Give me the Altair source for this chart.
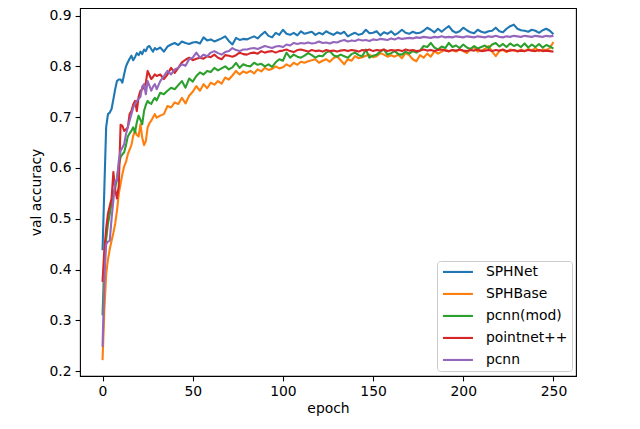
import altair as alt
import pandas as pd

names = ["SPHNet", "SPHBase", "pcnn(mod)", "pointnet++", "pcnn"]
colors = ["#1f77b4", "#ff7f0e", "#2ca02c", "#d62728", "#9467bd"]

epochs_early = list(range(0, 31))
epochs_late = list(range(32, 251, 2))

sphnet_early = [0.438, 0.560, 0.680, 0.706, 0.709, 0.716, 0.735, 0.755, 0.771, 0.774,
                0.774, 0.768, 0.785, 0.800, 0.808, 0.815, 0.821, 0.812, 0.818, 0.826,
                0.822, 0.829, 0.824, 0.833, 0.830, 0.838, 0.840, 0.834, 0.829, 0.836,
                0.833]
sphnet_late = [0.837, 0.829, 0.839, 0.843, 0.846, 0.842, 0.849, 0.846, 0.844, 0.847,
               0.848, 0.845, 0.857, 0.851, 0.853, 0.849, 0.852, 0.855, 0.859, 0.850,
               0.843, 0.856, 0.852, 0.854, 0.853, 0.856, 0.859, 0.855, 0.862, 0.868,
               0.860, 0.857, 0.866, 0.862, 0.872, 0.864, 0.862, 0.866, 0.861, 0.869,
               0.864, 0.866, 0.868, 0.862, 0.866, 0.863, 0.869, 0.865, 0.862, 0.867,
               0.864, 0.868, 0.859, 0.863, 0.866, 0.862, 0.864, 0.872, 0.865, 0.866,
               0.869, 0.861, 0.867, 0.864, 0.869, 0.862, 0.866, 0.872, 0.866, 0.864,
               0.868, 0.865, 0.866, 0.870, 0.876, 0.872, 0.867, 0.874, 0.868, 0.874,
               0.879, 0.870, 0.866, 0.869, 0.876, 0.871, 0.867, 0.865, 0.872, 0.868,
               0.866, 0.869, 0.870, 0.876, 0.869, 0.867, 0.874, 0.879, 0.882, 0.874,
               0.871, 0.870, 0.868, 0.872, 0.870, 0.866, 0.871, 0.874, 0.870, 0.863]

sphbase_early = [0.222, 0.320, 0.390, 0.420, 0.440, 0.457, 0.472, 0.490, 0.516, 0.549,
                 0.569, 0.588, 0.603, 0.612, 0.627, 0.636, 0.645, 0.663, 0.673, 0.665,
                 0.662, 0.686, 0.660, 0.645, 0.653, 0.680, 0.688, 0.693, 0.700, 0.706,
                 0.699]
sphbase_late = [0.703, 0.706, 0.722, 0.719, 0.729, 0.726, 0.738, 0.727, 0.742, 0.750,
                0.761, 0.752, 0.765, 0.757, 0.768, 0.764, 0.771, 0.766, 0.778, 0.774,
                0.782, 0.791, 0.784, 0.790, 0.787, 0.791, 0.786, 0.794, 0.790, 0.797,
                0.793, 0.795, 0.800, 0.796, 0.798, 0.804, 0.800, 0.807, 0.803, 0.809,
                0.807, 0.810, 0.812, 0.814, 0.807, 0.811, 0.814, 0.809, 0.816, 0.820,
                0.812, 0.804, 0.814, 0.811, 0.820, 0.816, 0.818, 0.821, 0.823, 0.818,
                0.820, 0.826, 0.823, 0.819, 0.822, 0.819, 0.823, 0.816, 0.826, 0.822,
                0.814, 0.810, 0.822, 0.817, 0.825, 0.819, 0.830, 0.825, 0.829, 0.833,
                0.829, 0.832, 0.829, 0.833, 0.830, 0.826, 0.834, 0.838, 0.829, 0.831,
                0.834, 0.840, 0.829, 0.820, 0.830, 0.832, 0.828, 0.833, 0.831, 0.829,
                0.833, 0.830, 0.834, 0.831, 0.836, 0.830, 0.833, 0.832, 0.836, 0.848]

pcnnmod_early = [0.310, 0.420, 0.460, 0.490, 0.510, 0.530, 0.550, 0.560, 0.580, 0.605,
                 0.621, 0.627, 0.631, 0.645, 0.662, 0.668, 0.673, 0.680, 0.670, 0.690,
                 0.703, 0.695, 0.686, 0.712, 0.724, 0.732, 0.728, 0.726, 0.733, 0.738,
                 0.733]
pcnnmod_late = [0.748, 0.745, 0.752, 0.758, 0.755, 0.763, 0.771, 0.758, 0.776, 0.770,
                0.781, 0.788, 0.784, 0.791, 0.789, 0.797, 0.792, 0.796, 0.800, 0.794,
                0.798, 0.807, 0.797, 0.804, 0.801, 0.800, 0.807, 0.803, 0.805, 0.800,
                0.804, 0.799, 0.808, 0.814, 0.811, 0.827, 0.817, 0.823, 0.819, 0.817,
                0.821, 0.826, 0.822, 0.817, 0.821, 0.820, 0.827, 0.830, 0.822, 0.819,
                0.823, 0.820, 0.817, 0.824, 0.827, 0.822, 0.820, 0.833, 0.817, 0.821,
                0.823, 0.829, 0.833, 0.823, 0.826, 0.830, 0.824, 0.823, 0.829, 0.825,
                0.830, 0.827, 0.831, 0.840, 0.838, 0.846, 0.837, 0.833, 0.839, 0.836,
                0.846, 0.838, 0.841, 0.836, 0.843, 0.837, 0.834, 0.840, 0.835, 0.838,
                0.841, 0.836, 0.843, 0.846, 0.839, 0.844, 0.838, 0.845, 0.840, 0.843,
                0.838, 0.845, 0.837, 0.843, 0.838, 0.844, 0.837, 0.842, 0.839, 0.835]

pointnet_early = [0.376, 0.440, 0.480, 0.510, 0.525, 0.540, 0.592, 0.558, 0.540, 0.565,
                  0.685, 0.683, 0.673, 0.676, 0.680, 0.706, 0.712, 0.725, 0.732, 0.712,
                  0.740, 0.752, 0.755, 0.758, 0.768, 0.791, 0.783, 0.775, 0.779, 0.784,
                  0.781]
pointnet_late = [0.784, 0.775, 0.784, 0.797, 0.787, 0.797, 0.808, 0.813, 0.817, 0.812,
                 0.815, 0.817, 0.815, 0.820, 0.818, 0.823, 0.817, 0.814, 0.822, 0.821,
                 0.819, 0.822, 0.827, 0.824, 0.823, 0.826, 0.827, 0.825, 0.830, 0.827,
                 0.829, 0.830, 0.827, 0.830, 0.831, 0.833, 0.830, 0.828, 0.832, 0.833,
                 0.831, 0.829, 0.832, 0.830, 0.831, 0.829, 0.832, 0.830, 0.831, 0.829,
                 0.831, 0.832, 0.830, 0.832, 0.831, 0.829, 0.832, 0.831, 0.833, 0.830,
                 0.832, 0.831, 0.833, 0.830, 0.832, 0.831, 0.832, 0.830, 0.833, 0.831,
                 0.832, 0.830, 0.831, 0.833, 0.831, 0.832, 0.830, 0.832, 0.833, 0.831,
                 0.830, 0.832, 0.831, 0.833, 0.831, 0.830, 0.832, 0.831, 0.833, 0.830,
                 0.831, 0.832, 0.830, 0.832, 0.831, 0.833, 0.830, 0.831, 0.832, 0.830,
                 0.831, 0.830, 0.832, 0.831, 0.830, 0.832, 0.830, 0.831, 0.830, 0.829]

pcnn_early = [0.248, 0.380, 0.450, 0.455, 0.457, 0.500, 0.536, 0.575, 0.575, 0.614,
              0.634, 0.640, 0.647, 0.667, 0.680, 0.693, 0.706, 0.719, 0.726, 0.732,
              0.736, 0.740, 0.760, 0.765, 0.745, 0.771, 0.762, 0.752, 0.760, 0.765,
              0.755]
pcnn_late = [0.771, 0.781, 0.791, 0.784, 0.794, 0.797, 0.804, 0.801, 0.814, 0.817,
             0.827, 0.817, 0.823, 0.820, 0.827, 0.830, 0.826, 0.823, 0.828, 0.830,
             0.836, 0.832, 0.830, 0.833, 0.833, 0.835, 0.836, 0.834, 0.837, 0.840,
             0.838, 0.836, 0.839, 0.840, 0.838, 0.843, 0.841, 0.846, 0.844, 0.846,
             0.845, 0.847, 0.845, 0.846, 0.849, 0.846, 0.847, 0.845, 0.848, 0.847,
             0.850, 0.852, 0.849, 0.851, 0.850, 0.853, 0.851, 0.852, 0.850, 0.853,
             0.852, 0.854, 0.853, 0.852, 0.855, 0.853, 0.856, 0.854, 0.855, 0.856,
             0.855, 0.857, 0.856, 0.858, 0.857, 0.856, 0.858, 0.857, 0.859, 0.857,
             0.858, 0.857, 0.859, 0.858, 0.857, 0.859, 0.858, 0.857, 0.859, 0.858,
             0.857, 0.859, 0.858, 0.860, 0.858, 0.857, 0.859, 0.858, 0.860, 0.859,
             0.858, 0.860, 0.859, 0.858, 0.860, 0.859, 0.858, 0.860, 0.859, 0.860]

x_ticks = [0, 50, 100, 150, 200, 250]
y_ticks = [0.2, 0.3, 0.4, 0.5, 0.6, 0.7, 0.8, 0.9]

series = [
    sphnet_early + sphnet_late,
    sphbase_early + sphbase_late,
    pcnnmod_early + pcnnmod_late,
    pointnet_early + pointnet_late,
    pcnn_early + pcnn_late,
]
epochs = epochs_early + epochs_late

rows = []
for k, (name, vals) in enumerate(zip(names, series)):
    for e, v in zip(epochs, vals):
        rows.append({"epoch": e, "acc": v, "series": name, "k": k})
df = pd.DataFrame(rows)

FONT = "DejaVu Sans"

chart = alt.Chart(df).mark_line(strokeWidth=2.1, strokeJoin="round").encode(
    x=alt.X("epoch:Q",
            scale=alt.Scale(domain=[-12.5, 262.5], nice=False, zero=False),
            axis=alt.Axis(values=x_ticks, title="epoch", format="d", titlePadding=3)),
    y=alt.Y("acc:Q",
            scale=alt.Scale(domain=[0.1907, 0.9148], nice=False, zero=False),
            axis=alt.Axis(values=y_ticks, title="val accuracy", format=".1f", titlePadding=6)),
    color=alt.Color("series:N",
                    scale=alt.Scale(domain=names, range=colors),
                    legend=alt.Legend(title=None, orient="none", legendX=357, legendY=253,
                                      symbolType="M-1,0L5,0", symbolSize=100,
                                      symbolStrokeWidth=2.1, labelFontSize=13.9,
                                      labelFont=FONT, labelColor="black",
                                      labelOffset=31, rowPadding=7, padding=4,
                                      strokeColor="#cccccc",
                                      fillColor="rgba(255,255,255,0.8)",
                                      cornerRadius=3)),
    detail="k:O",
).properties(
    width=496, height=368,
    autosize=alt.AutoSizeParams(type="none"),
    padding={"left": 72, "top": 0, "right": 48, "bottom": 42},
).configure_view(
    stroke="black", strokeWidth=1.1
).configure_axis(
    domain=False, grid=False,
    tickColor="black", tickWidth=1.1, tickSize=4.9,
    labelColor="black", labelFont=FONT, labelFontSize=13.9, labelPadding=4,
    titleColor="black", titleFont=FONT, titleFontSize=13.9, titleFontWeight="normal",
)

chart.save("out.html", embed_options={"renderer": "svg", "actions": False})
